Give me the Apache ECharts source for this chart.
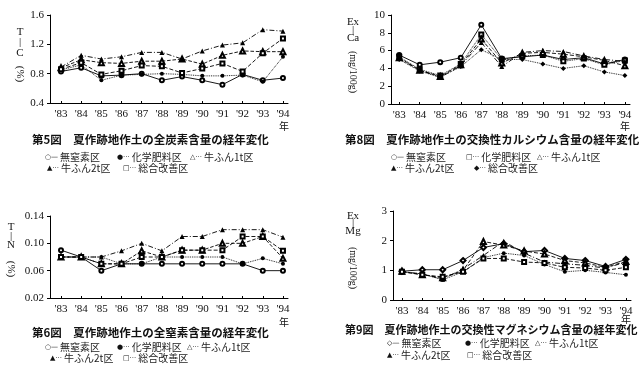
<!DOCTYPE html>
<html>
<head>
<meta charset="utf-8">
<script src="https://cdn.jsdelivr.net/npm/echarts@6/dist/echarts.min.js"></script>
<style>
html,body{margin:0;padding:0;background:#fff;}
#chart{width:643px;height:374px;}
</style>
</head>
<body>
<div id="chart"></div>
<script>
// ---- data ----
const years = [83, 84, 85, 86, 87, 88, 89, 90, 91, 92, 93, 94];
const seriesNames = ['無窒素区', '化学肥料区', '牛ふん1t区', '牛ふん2t区', '総合改善区'];

// 第5図 全炭素 T-C (%)
const tcNoN  = [0.83, 0.88, 0.77, 0.78, 0.80, 0.71, 0.76, 0.71, 0.65, 0.79, 0.71, 0.74];
const tcChem = [0.85, 0.92, 0.71, 0.78, 0.79, 0.80, 0.79, 0.77, 0.77, 0.78, 0.69, 1.03];
const tc1t   = [0.88, 0.99, 0.95, 0.94, 0.97, 0.97, 1.00, 0.93, 1.05, 1.11, 1.10, 1.10];
const tc2t   = [0.89, 1.05, 1.00, 1.03, 1.09, 1.09, 1.00, 1.11, 1.19, 1.22, 1.40, 1.38];
const tcComp = [0.86, 0.95, 0.79, 0.84, 0.91, 0.90, 0.81, 0.87, 0.94, 0.83, 1.08, 1.28];

// 第8図 交換性カルシウム Ex-Ca (mg/100g)
const caNoN  = [5.5, 4.4, 4.7, 5.2, 8.9, 5.1, 5.3, 5.5, 5.0, 5.2, 4.5, 5.0];
const caChem = [5.3, 3.9, 3.2, 4.5, 7.8, 5.0, 5.4, 5.5, 4.8, 5.1, 4.4, 4.9];
const ca1t   = [5.2, 3.8, 3.1, 4.4, 7.3, 4.6, 5.7, 5.8, 5.6, 5.3, 4.9, 4.3];
const ca2t   = [5.1, 3.8, 3.0, 4.3, 6.9, 4.2, 5.8, 6.0, 5.9, 5.4, 5.0, 4.8];
const caComp = [5.0, 3.7, 3.0, 4.2, 6.1, 5.0, 5.0, 4.5, 4.0, 4.3, 3.6, 3.2];

// 第6図 全窒素 T-N (%)
const tnNoN  = [0.090, 0.080, 0.060, 0.070, 0.070, 0.070, 0.070, 0.070, 0.070, 0.070, 0.060, 0.060];
const tnChem = [0.080, 0.080, 0.080, 0.070, 0.070, 0.080, 0.080, 0.080, 0.080, 0.070, 0.078, 0.070];
const tn1t   = [0.080, 0.080, 0.070, 0.070, 0.089, 0.080, 0.090, 0.090, 0.100, 0.100, 0.110, 0.078];
const tn2t   = [0.080, 0.080, 0.080, 0.089, 0.100, 0.089, 0.110, 0.110, 0.120, 0.120, 0.120, 0.109];
const tnComp = [0.080, 0.080, 0.070, 0.070, 0.080, 0.080, 0.090, 0.090, 0.090, 0.110, 0.110, 0.089];

// 第9図 交換性マグネシウム Ex-Mg (mg/100g)
const mgNoN  = [0.97, 1.02, 1.02, 1.33, 1.77, 1.90, 1.63, 1.67, 1.40, 1.33, 1.13, 1.37];
const mgChem = [0.95, 0.88, 0.68, 0.95, 1.43, 1.58, 1.50, 1.20, 0.95, 1.00, 0.93, 0.85];
const mg1t   = [0.97, 0.85, 0.75, 1.00, 1.97, 1.85, 1.65, 1.55, 1.33, 1.25, 1.10, 1.30];
const mg2t   = [0.95, 0.88, 0.70, 1.05, 1.50, 1.98, 1.58, 1.28, 1.22, 1.17, 1.07, 1.28];
const mgComp = [0.95, 0.85, 0.78, 0.95, 1.40, 1.40, 1.28, 1.25, 1.10, 1.08, 1.00, 1.10];

// tick labels
const tcTicks = [0.4, 0.8, 1.2, 1.6];
const caTicks = [0, 2, 4, 6, 8, 10];
const tnTicks = [0.02, 0.06, 0.10, 0.14];
const mgTicks = [0, 1, 2, 3];

// titles
const titles = [
  '第5図　夏作跡地作土の全炭素含量の経年変化',
  '第8図　夏作跡地作土の交換性カルシウム含量の経年変化',
  '第6図　夏作跡地作土の全窒素含量の経年変化',
  '第9図　夏作跡地作土の交換性マグネシウム含量の経年変化'
];
// legend entries: [marker, line, label]
const legendTC = [[['○', '—', '無窒素区'], ['●', '···', '化学肥料区'], ['△', '···', '牛ふん1t区']],
                  [['▲', '···', '牛ふん2t区'], ['□', '···', '総合改善区']]];
const legendCa = [[['○', '—', '無窒素区'], ['□', '···', '化学肥料区'], ['△', '···', '牛ふん1t区']],
                  [['▲', '···', '牛ふん2t区'], ['◆', '···', '総合改善区']]];
const legendMg = [[['◇', '—', '無窒素区'], ['●', '···', '化学肥料区'], ['△', '···', '牛ふん1t区']],
                  [['▲', '···', '牛ふん2t区'], ['□', '···', '総合改善区']]];

// ---- chart ----
const chart = echarts.init(document.getElementById('chart'));
const NUM_FONT = '"Liberation Serif", "DejaVu Serif", serif';
const JP_FONT = '"Noto Sans CJK JP", "Noto Sans", sans-serif';

const panels = [
  { grid: {left: 50, top: 15, width: 238, height: 88}, xmin: 82.455, xmax: 94.25,
    ymin: 0.4, ymax: 1.6, ticks: tcTicks, dec: 1,
    data: [tcNoN, tcChem, tc1t, tc2t, tcComp],
    sym: ['emptyCircle', 'circle', 'emptyTriangle', 'triangle', 'emptyRect'],
    dash: ['solid', 'dotted', 'dashed', [5, 2, 1, 2], [4, 2]] },
  { grid: {left: 391, top: 15, width: 239, height: 89}, xmin: 82.6, xmax: 94.25,
    ymin: 0, ymax: 10, ticks: caTicks, dec: 0,
    data: [caNoN, caChem, ca1t, ca2t, caComp],
    sym: ['emptyCircle', 'emptyRect', 'emptyTriangle', 'triangle', 'diamond'],
    dash: ['solid', 'dotted', [4, 2], [5, 2, 1, 2], 'dotted'] },
  { grid: {left: 50, top: 216, width: 238, height: 82}, xmin: 82.455, xmax: 94.25,
    ymin: 0.02, ymax: 0.14, ticks: tnTicks, dec: 2,
    data: [tnNoN, tnChem, tn1t, tn2t, tnComp],
    sym: ['emptyCircle', 'circle', 'emptyTriangle', 'triangle', 'emptyRect'],
    dash: ['solid', 'dotted', 'dashed', [5, 2, 1, 2], [4, 2]] },
  { grid: {left: 393, top: 211, width: 238, height: 89}, xmin: 82.56, xmax: 94.25,
    ymin: 0, ymax: 3, ticks: mgTicks, dec: 0,
    data: [mgNoN, mgChem, mg1t, mg2t, mgComp],
    sym: ['emptyDiamond', 'circle', 'emptyTriangle', 'triangle', 'emptyRect'],
    dash: ['solid', 'dotted', [4, 2], [5, 2, 1, 2], [4, 2]] }
];

const grids = [], xAxes = [], yAxes = [], series = [];
panels.forEach((p, pi) => {
  grids.push(Object.assign({containLabel: false}, p.grid));
  xAxes.push({
    type: 'value', gridIndex: pi, min: p.xmin, max: p.xmax,
    axisLine: {show: true, lineStyle: {color: '#000', width: 1}},
    axisTick: {show: true, inside: true, length: 2, customValues: years, lineStyle: {color: '#000'}},
    axisLabel: {customValues: years, formatter: v => "'" + v, color: '#111',
      fontFamily: NUM_FONT, fontSize: 11, margin: 6},
    splitLine: {show: false}
  });
  yAxes.push({
    type: 'value', gridIndex: pi, min: p.ymin, max: p.ymax,
    axisLine: {show: true, lineStyle: {color: '#000', width: 1}},
    axisTick: {show: true, length: 3, customValues: p.ticks, lineStyle: {color: '#000'}},
    axisLabel: {customValues: p.ticks, formatter: v => Number(v).toFixed(p.dec), color: '#111',
      fontFamily: NUM_FONT, fontSize: 11, margin: 6},
    splitLine: {show: false}
  });
  p.data.forEach((arr, si) => {
    const s = p.sym[si];
    series.push({
      type: 'line', name: seriesNames[si], xAxisIndex: pi, yAxisIndex: pi,
      data: years.map((y, i) => [y, arr[i]]),
      symbol: s, symbolSize: /Triangle|triangle|iamond/.test(s) ? 5 : 4, showSymbol: true,
      lineStyle: {color: '#000', width: 0.9, type: p.dash[si]},
      itemStyle: {color: '#000', borderWidth: 0.9},
      animation: false, z: 2 + si
    });
  });
});

// text graphics
const g = [];
function txt(text, x, y, opt) {
  const o = {type: 'text', x: x, y: y, rotation: (opt && opt.rot) || 0,
    style: Object.assign({text: text, fill: '#111', font: '11px ' + JP_FONT,
      textAlign: 'left', textVerticalAlign: 'middle'}, (opt && opt.style) || {})};
  g.push(o);
}
// titles
txt(titles[0], 32, 140, {style: {font: 'bold 11.5px ' + JP_FONT}});
txt(titles[1], 345, 140, {style: {font: 'bold 11.5px ' + JP_FONT}});
txt(titles[2], 32, 333, {style: {font: 'bold 11.5px ' + JP_FONT}});
txt(titles[3], 345, 330, {style: {font: 'bold 11px ' + JP_FONT}});
// legends
const richLeg = {
  m: {font: '7px "DejaVu Sans", sans-serif', fill: '#111'},
  d: {font: '7px "DejaVu Sans", sans-serif', fill: '#111', padding: [0, 2, 0, 0]},
  l: {font: '10px ' + JP_FONT, fill: '#222'}
};
function legend(rows, xs, ys) {
  rows.forEach((row, r) => row.forEach((it, i) => {
    g.push({type: 'text', x: xs[r][i], y: ys[r],
      style: {text: '{m|' + it[0] + '}{d|' + it[1] + '}{l|' + it[2] + '}',
        rich: richLeg, textAlign: 'left', textVerticalAlign: 'middle'}});
  }));
}
legend(legendTC, [[45, 117, 190], [47, 123]], [157, 168]);
legend(legendCa, [[391, 466, 537], [391, 474]], [157, 168]);
legend(legendTC, [[45, 117, 187], [50, 123]], [347, 358]);
legend(legendMg, [[387, 465, 535], [387, 467]], [343, 355]);
// 年 markers
const cc = {style: {textAlign: 'center', font: '10px ' + JP_FONT}};
txt('年', 284, 126, cc);
txt('年', 625, 126, cc);
txt('年', 284, 322, cc);
txt('年', 626, 319, cc);
// y axis titles
const ct = {style: {textAlign: 'center', font: '11px ' + NUM_FONT}};
txt('T', 20, 32, ct); txt('|', 20, 42, ct); txt('C', 20, 53, ct);
txt('(%)', 20, 74, {rot: -Math.PI / 2, style: {textAlign: 'center', font: '11px ' + NUM_FONT}});
txt('T', 11, 227, ct); txt('|', 11, 236, ct); txt('N', 11, 245, ct);
txt('(%)', 11, 269, {rot: -Math.PI / 2, style: {textAlign: 'center', font: '11px ' + NUM_FONT}});
txt('Ex', 353, 22, ct); txt('|', 353, 30, ct); txt('Ca', 353, 38, ct);
txt('(mg/100g)', 353, 72, {rot: -Math.PI / 2, style: {textAlign: 'center', font: '10px ' + NUM_FONT}});
txt('Ex', 353, 216, ct); txt('|', 353, 223, ct); txt('Mg', 353, 231, ct);
txt('(mg/100g)', 353, 268, {rot: -Math.PI / 2, style: {textAlign: 'center', font: '10px ' + NUM_FONT}});

chart.setOption({
  backgroundColor: '#fff',
  animation: false,
  grid: grids, xAxis: xAxes, yAxis: yAxes, series: series,
  graphic: g
});
</script>
</body>
</html>
